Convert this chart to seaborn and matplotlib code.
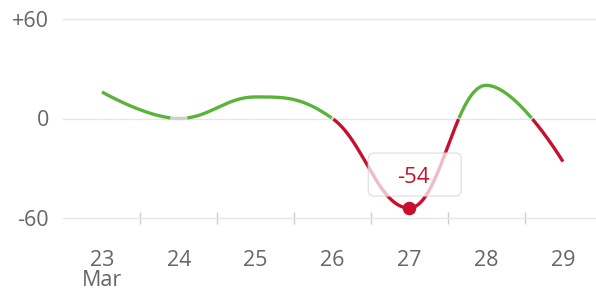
import numpy as np
import matplotlib
matplotlib.use("Agg")
import matplotlib.pyplot as plt
import seaborn as sns
from matplotlib.patches import FancyBboxPatch
from matplotlib.transforms import IdentityTransform

# ---- data ----
days = [23, 24, 25, 26, 27, 28, 29]
values = [16, 0, 13, 0, -54, 20, -26]
x_tick_labels = ["23\nMar", "24", "25", "26", "27", "28", "29"]
y_ticks = [-60, 0, 60]
y_tick_labels = ["-60", "0", "+60"]
highlight_day = 27
highlight_value = -54

GREEN = "#5cb33a"
RED = "#c8102e"
GRAY_ZERO = "#cfcfcf"
TEXT = "#666666"
GRID = "#e6e6e6"

sns.set_style("white")
plt.rcParams["font.family"] = ["Open Sans", "DejaVu Sans"]


def spline_controls(xs, ys, smoothing=1.5):
    """Highcharts-style spline control points."""
    n = len(xs)
    denom = smoothing + 1
    left = [None] * n
    right = [None] * n
    for i in range(1, n - 1):
        px, py = xs[i], ys[i]
        lx, ly = xs[i - 1], ys[i - 1]
        nx, ny = xs[i + 1], ys[i + 1]
        lcx = (smoothing * px + lx) / denom
        lcy = (smoothing * py + ly) / denom
        rcx = (smoothing * px + nx) / denom
        rcy = (smoothing * py + ny) / denom
        corr = (rcy - lcy) * (rcx - px) / (rcx - lcx) + py - rcy
        lcy += corr
        rcy += corr
        if lcy > ly and lcy > py:
            lcy = max(ly, py); rcy = 2 * py - lcy
        elif lcy < ly and lcy < py:
            lcy = min(ly, py); rcy = 2 * py - lcy
        if rcy > ny and rcy > py:
            rcy = max(ny, py); lcy = 2 * py - rcy
        elif rcy < ny and rcy < py:
            rcy = min(ny, py); lcy = 2 * py - rcy
        left[i] = (lcx, lcy)
        right[i] = (rcx, rcy)
    return left, right


def spline_path(xs, ys, per_seg=300):
    left, right = spline_controls(xs, ys)
    t = np.linspace(0, 1, per_seg)
    X, Y = [], []
    for i in range(1, len(xs)):
        p0 = np.array([xs[i - 1], ys[i - 1]], float)
        p1 = np.array(right[i - 1] if right[i - 1] else p0)
        p3 = np.array([xs[i], ys[i]], float)
        p2 = np.array(left[i] if left[i] else p3)
        b = ((1 - t) ** 3)[:, None] * p0 + (3 * (1 - t) ** 2 * t)[:, None] * p1 \
            + (3 * (1 - t) * t ** 2)[:, None] * p2 + (t ** 3)[:, None] * p3
        if i > 1:
            b = b[1:]
        X.append(b[:, 0]); Y.append(b[:, 1])
    return np.concatenate(X), np.concatenate(Y)


fig = plt.figure(figsize=(5.96, 2.95), dpi=100)
W, H = 596, 295
ax = fig.add_axes([63 / W, (H - 218) / H, 1 - 63 / W, (218 - 19) / H])

sx, sy = spline_path(days, values)

# colour zones
mid = (sy[:-1] + sy[1:]) / 2
cls = np.where(mid > 0.35, 0, np.where(mid < -0.35, 1, 2))
colors = {0: GREEN, 1: RED, 2: GRAY_ZERO}
start = 0
for k in range(1, len(cls) + 1):
    if k == len(cls) or cls[k] != cls[start]:
        seg_x = sx[start:k + 1]
        seg_y = sy[start:k + 1]
        sns.lineplot(x=seg_x, y=seg_y, sort=False, estimator=None,
                     color=colors[cls[start]], linewidth=2.4, ax=ax,
                     zorder=3, solid_capstyle="butt")
        start = k

ax.set_xlim(22.492, 29.43)
ax.set_ylim(-60, 60)

# axes styling
for s in ax.spines.values():
    s.set_visible(False)
ax.set_yticks(y_ticks)
ax.set_yticklabels(y_tick_labels)
ax.set_xticks(days)
ax.set_xticklabels(x_tick_labels)
ax.set_xticks([d + 0.5 for d in days[:-1]], minor=True)
ax.tick_params(axis="y", length=0, pad=10, labelsize=15.5, labelcolor=TEXT)
ax.tick_params(axis="x", which="major", length=0, pad=23, labelsize=15.5, labelcolor=TEXT)
ax.tick_params(axis="x", which="minor", bottom=True, length=8, width=1,
               direction="inout", color="#cccccc")
ax.xaxis.get_ticklabels()[0].set_linespacing(0.95)
ax.grid(axis="y", color=GRID, linewidth=1)
ax.grid(axis="x", visible=False)
for gl in ax.get_ygridlines():
    gl.set_clip_on(False)
ax.set_xlabel("")
ax.set_ylabel("")

# highlight dot
sns.scatterplot(x=[highlight_day], y=[highlight_value], s=95, color=RED,
                edgecolor=RED, linewidth=0, ax=ax, zorder=6)

# tooltip box
fig.canvas.draw()
px, py = ax.transData.transform((highlight_day, highlight_value))
box = FancyBboxPatch((px - 41, py + 12), 93, 43,
                     boxstyle="round,pad=0,rounding_size=6",
                     transform=IdentityTransform(), facecolor="white",
                     alpha=0.72, edgecolor="#d9d9d9", linewidth=1, zorder=4)
box.set_clip_on(False)
ax.add_patch(box)
ax.annotate(str(highlight_value), xy=(highlight_day, highlight_value),
            xytext=(4, 31), textcoords="offset pixels", ha="center", va="center",
            fontsize=16, color=RED, zorder=5)

fig.savefig("out.png", dpi=100)
